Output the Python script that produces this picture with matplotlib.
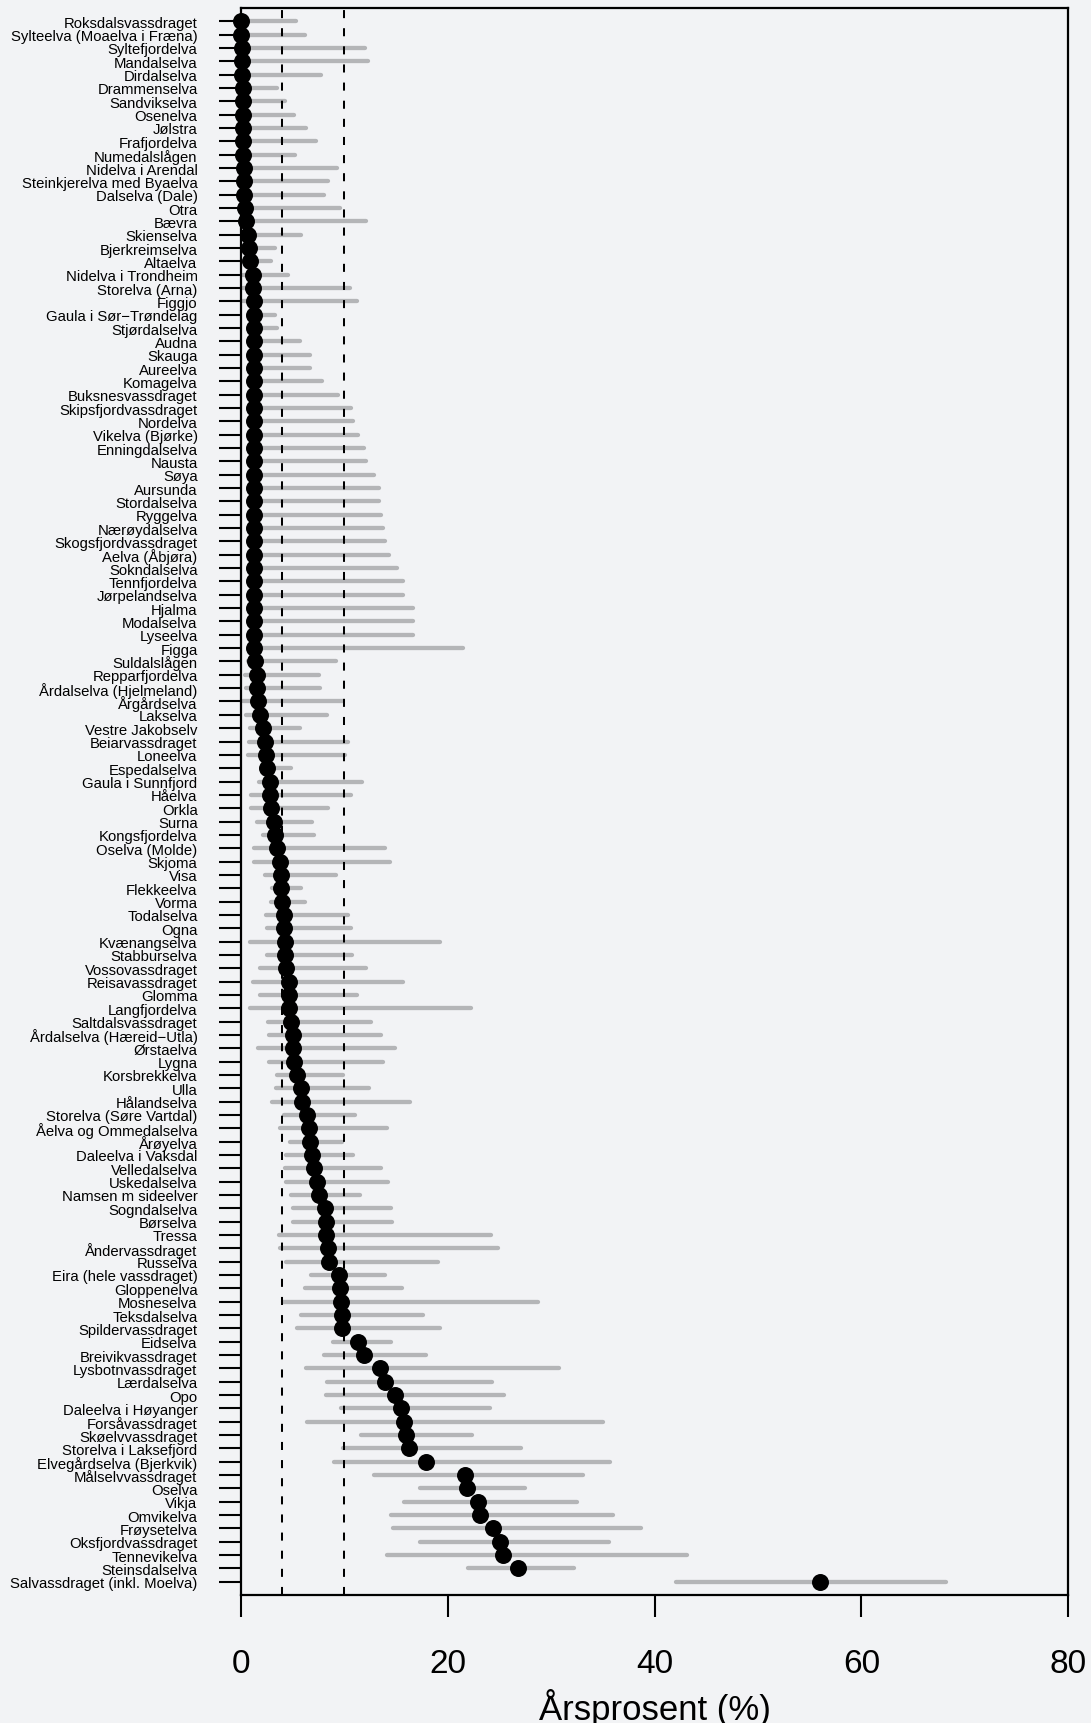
import numpy as np
import matplotlib
matplotlib.use("Agg")
import matplotlib.pyplot as plt

plt.rcParams["font.family"] = ["Liberation Sans", "DejaVu Sans"]

rivers = [
    "Roksdalsvassdraget", "Sylteelva (Moaelva i Fræna)", "Syltefjordelva", "Mandalselva",
    "Dirdalselva", "Drammenselva", "Sandvikselva", "Osenelva", "Jølstra", "Frafjordelva",
    "Numedalslågen", "Nidelva i Arendal", "Steinkjerelva med Byaelva", "Dalselva (Dale)",
    "Otra", "Bævra", "Skienselva", "Bjerkreimselva", "Altaelva", "Nidelva i Trondheim",
    "Storelva (Arna)", "Figgjo", "Gaula i Sør−Trøndelag", "Stjørdalselva", "Audna",
    "Skauga", "Aureelva", "Komagelva", "Buksnesvassdraget", "Skipsfjordvassdraget",
    "Nordelva", "Vikelva (Bjørke)", "Enningdalselva", "Nausta", "Søya", "Aursunda",
    "Stordalselva", "Ryggelva", "Nærøydalselva", "Skogsfjordvassdraget", "Aelva (Åbjøra)",
    "Sokndalselva", "Tennfjordelva", "Jørpelandselva", "Hjalma", "Modalselva", "Lyseelva",
    "Figga", "Suldalslågen", "Repparfjordelva", "Årdalselva (Hjelmeland)", "Årgårdselva",
    "Lakselva", "Vestre Jakobselv", "Beiarvassdraget", "Loneelva", "Espedalselva",
    "Gaula i Sunnfjord", "Håelva", "Orkla", "Surna", "Kongsfjordelva", "Oselva (Molde)",
    "Skjoma", "Visa", "Flekkeelva", "Vorma", "Todalselva", "Ogna", "Kvænangselva",
    "Stabburselva", "Vossovassdraget", "Reisavassdraget", "Glomma", "Langfjordelva",
    "Saltdalsvassdraget", "Årdalselva (Hæreid−Utla)", "Ørstaelva", "Lygna", "Korsbrekkelva",
    "Ulla", "Hålandselva", "Storelva (Søre Vartdal)", "Åelva og Ommedalselva", "Årøyelva",
    "Daleelva i Vaksdal", "Velledalselva", "Uskedalselva", "Namsen m sideelver",
    "Sogndalselva", "Børselva", "Tressa", "Åndervassdraget", "Russelva",
    "Eira (hele vassdraget)", "Gloppenelva", "Mosneselva", "Teksdalselva",
    "Spildervassdraget", "Eidselva", "Breivikvassdraget", "Lysbotnvassdraget",
    "Lærdalselva", "Opo", "Daleelva i Høyanger", "Forsåvassdraget", "Skøelvvassdraget",
    "Storelva i Laksefjord", "Elvegårdselva (Bjerkvik)", "Målselvvassdraget", "Oselva",
    "Vikja", "Omvikelva", "Frøysetelva", "Oksfjordvassdraget", "Tennevikelva",
    "Steinsdalselva", "Salvassdraget (inkl. Moelva)",
]

# estimated yearly percentage per river
estimate = [
    0.0, 0.0, 0.05, 0.05, 0.1, 0.15, 0.15, 0.2, 0.2, 0.2,
    0.2, 0.25, 0.25, 0.3, 0.35, 0.5, 0.7, 0.8, 0.85, 1.2,
    1.2, 1.3, 1.3, 1.3, 1.3, 1.3, 1.3, 1.3, 1.3, 1.3,
    1.3, 1.3, 1.3, 1.3, 1.3, 1.3, 1.3, 1.3, 1.3, 1.3,
    1.3, 1.3, 1.3, 1.3, 1.3, 1.3, 1.3, 1.3, 1.35, 1.55,
    1.55, 1.65, 1.85, 2.1, 2.3, 2.45, 2.5, 2.8, 2.8, 2.9,
    3.15, 3.25, 3.45, 3.8, 3.85, 3.9, 3.95, 4.15, 4.2, 4.25,
    4.3, 4.4, 4.6, 4.6, 4.65, 4.8, 5.05, 5.05, 5.15, 5.45,
    5.85, 5.9, 6.4, 6.55, 6.65, 6.85, 7.1, 7.35, 7.5, 8.15,
    8.2, 8.25, 8.4, 8.5, 9.5, 9.6, 9.65, 9.75, 9.8, 11.3,
    11.85, 13.45, 13.95, 14.9, 15.5, 15.8, 16.0, 16.25, 17.85, 21.7,
    21.85, 22.9, 23.15, 24.35, 25.05, 25.3, 26.8, 56.0,
]

lower = [
    0.0, 0.0, 0.0, 0.0, 0.0, 0.0, 0.0, 0.0, 0.0, 0.0,
    0.0, 0.0, 0.0, 0.0, 0.0, 0.0, 0.0, 0.0, 0.0, 0.2,
    0.2, 0.2, 0.8, 0.8, 0.8, 0.8, 0.8, 0.8, 0.8, 0.8,
    0.8, 0.8, 0.8, 0.8, 0.8, 0.8, 0.8, 0.8, 0.8, 0.8,
    0.8, 0.8, 0.8, 0.8, 0.8, 0.8, 0.8, 0.8, 0.7, 0.4,
    0.5, 0.2, 0.45, 0.85, 0.8, 0.7, 2.0, 1.7, 1.0, 1.0,
    1.55, 2.15, 1.3, 1.25, 2.3, 2.95, 2.9, 2.45, 2.5, 0.85,
    2.5, 1.8, 1.2, 1.85, 0.85, 2.65, 2.75, 1.6, 2.75, 3.5,
    3.4, 3.0, 4.15, 3.75, 4.75, 4.35, 4.25, 4.4, 4.85, 5.05,
    5.05, 3.65, 3.75, 4.4, 6.8, 6.2, 4.05, 5.85, 5.45, 8.9,
    8.05, 6.3, 8.3, 8.2, 9.7, 6.4, 11.65, 9.85, 8.95, 12.85,
    17.35, 15.75, 14.55, 14.75, 17.35, 14.1, 21.95, 42.1,
]

upper = [
    5.3, 6.2, 12.0, 12.3, 7.7, 3.5, 4.3, 5.1, 6.25, 7.25,
    5.25, 9.3, 8.45, 8.0, 9.55, 12.1, 5.85, 3.25, 2.9, 4.5,
    10.55, 11.2, 3.3, 3.5, 5.7, 6.7, 6.7, 7.8, 9.4, 10.6,
    10.85, 11.3, 11.85, 12.1, 12.9, 13.3, 13.3, 13.5, 13.7, 13.9,
    14.35, 15.1, 15.7, 15.7, 16.65, 16.65, 16.65, 21.5, 9.2, 7.5,
    7.6, 9.85, 8.35, 5.7, 10.35, 10.1, 4.85, 11.7, 10.65, 8.4,
    6.85, 7.1, 13.9, 14.45, 9.2, 5.8, 6.2, 10.35, 10.6, 19.2,
    10.75, 12.1, 15.7, 11.2, 22.25, 12.55, 13.5, 14.9, 13.7, 9.85,
    12.4, 16.35, 11.0, 14.15, 9.75, 10.85, 13.5, 14.2, 11.55, 14.55,
    14.6, 24.2, 24.85, 19.05, 13.9, 15.6, 28.7, 17.6, 19.25, 14.5,
    17.85, 30.8, 24.3, 25.4, 24.05, 35.0, 22.3, 27.1, 35.65, 33.1,
    27.45, 32.5, 36.0, 38.65, 35.6, 43.15, 32.2, 68.2,
]

reference_lines = [4, 10]
x_ticks = [0, 20, 40, 60, 80]

bg = "#f2f3f5"
n = len(rivers)
pos = np.arange(1, n + 1)

fig = plt.figure(figsize=(10.91, 17.24), dpi=100, facecolor=bg)
ax = fig.add_axes([0.2209, 0.0742, 0.7581, 0.9206])
ax.set_facecolor(bg)

# interval bars, dashed reference lines, then the point estimates on top
ax.hlines(pos, lower, upper, colors="#b4b5b7", linewidth=3.1,
          capstyle="round", zorder=2)
for v in reference_lines:
    ax.axvline(v, color="black", linewidth=1.45, linestyle=(0, (4, 5)), zorder=3)
ax.plot(estimate, pos, "o", color="black", markersize=11.2, clip_on=False, zorder=4)

ax.set_xlim(0, 80)
ax.set_ylim(n + 1, 0)
ax.set_xticks(x_ticks)
ax.set_yticks(pos)
ax.set_yticklabels(rivers)

ax.tick_params(axis="y", length=15.8, width=1.5, pad=15.5, labelsize=10.7)
ax.tick_params(axis="x", length=15.8, width=1.5, pad=22, labelsize=24)
for side in ["left", "right", "top", "bottom"]:
    ax.spines[side].set_linewidth(1.6)

ax.set_xlabel("Årsprosent (%)", fontsize=25, labelpad=7)

plt.savefig("out.png", dpi=100, facecolor=bg)
plt.close()
